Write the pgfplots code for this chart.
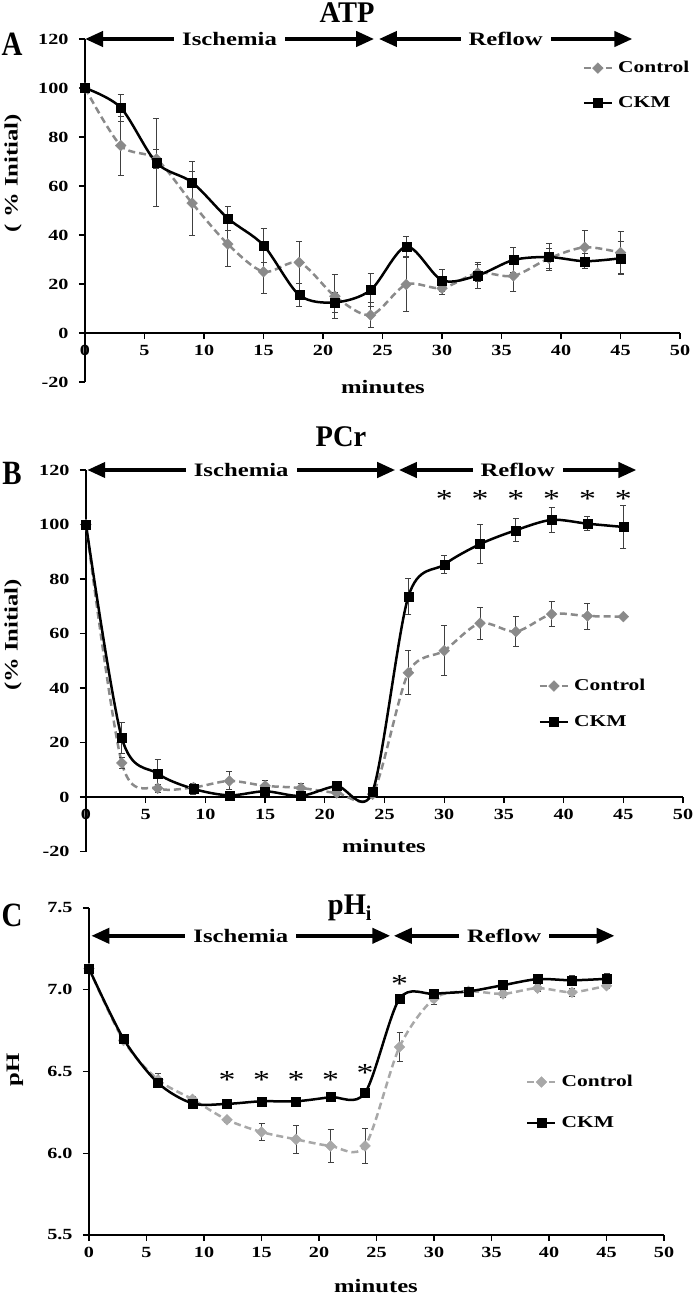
\documentclass[border=0pt]{standalone}
\usepackage{pgfplots}
\pgfplotsset{compat=1.18}
\usepackage{fontspec}
\setmainfont{Liberation Serif}[FakeStretch=1.3]
\newfontfamily\titlefont{Liberation Serif}[FakeStretch=0.95]
\newfontfamily\letterfont{Liberation Serif}[FakeStretch=0.85]
\usetikzlibrary{arrows.meta}

\definecolor{ctrlAB}{HTML}{8A8A8A}
\definecolor{ctrlC}{HTML}{A8A8A8}
\definecolor{errc}{HTML}{404040}
\newcommand{\fs}[1]{\fontsize{#1}{#1}\selectfont}

\tikzset{
  arr/.style={line width=4pt, {Triangle[length=18pt,width=15pt]}-{Triangle[length=18pt,width=15pt]}},
  lbl/.style={fill=white, inner xsep=8pt, inner ysep=1pt, font=\bfseries\fs{19}},
  ast/.style={font=\fs{26}, inner sep=0pt},
}

\pgfplotsset{
  myax/.style={
    scale only axis, anchor=south west, clip=false,
    axis y line*=left,
    axis line style={line width=1.4pt, -},
    tick style={line width=1.3pt, black},
    major tick length=6pt,
    tick align=outside,
    hide obscured x ticks=false, hide obscured y ticks=false,
    xmin=0, xmax=50, xtick={0,5,...,50},
    ticklabel style={font=\bfseries\fs{15.5}},
    yticklabel style={xshift=-7pt},
    xticklabel style={yshift=-3pt},
    /pgf/number format/assume math mode=true,
    legend style={draw=none, fill=none, font=\bfseries\fs{16.5}, inner sep=0pt,
      nodes={inner sep=0pt, text height=12pt, text depth=3pt, anchor=west},
      /tikz/every odd column/.append style={column sep=5pt}},
    legend cell align=left,
    legend image code/.code={\draw[mark repeat=2,mark phase=2,##1] plot coordinates {(0pt,0pt) (14pt,0pt) (28pt,0pt)};},
  },
  errs/.style={error bars/.cd, y dir=both, y explicit,
     error bar style={errc, line width=0.9pt, solid},
     error mark options={rotate=90, errc, mark size=3pt, line width=0.9pt, solid}},
  ctrl/.style={color=#1, line width=2.5pt, dash pattern=on 7pt off 4pt, smooth, tension=0.5,
     mark=square*, mark size=3.8pt, mark options={solid, rotate=45, fill=#1, draw=#1, line width=0.4pt}, errs},
  ckm/.style={black, line width=2.5pt, solid, smooth, tension=0.5,
     mark=square*, mark size=4.5pt, mark options={solid, fill=black, line width=0.4pt}, errs},
}

\begin{document}
\begin{tikzpicture}[x=1pt,y=1pt]
\path[use as bounding box] (0,0) rectangle (700,-1297);

% ---------------- Panel A ----------------
\begin{axis}[myax, at={(85pt,-382pt)}, width=595pt, height=343pt,
  ymin=-20, ymax=120, ytick={-20,0,...,120}, axis x line*=middle,
  legend style={at={(axis cs:41.8,101)}, anchor=west, row sep=20pt}]
\addplot+[ctrl=ctrlAB] coordinates {
(0,100) +- (0,0)
(3,76.5) +- (0,12)
(6,71) +- (0,4)
(9,53) +- (0,13)
(12,36.3) +- (0,9)
(15,25) +- (0,9)
(18,28.8) +- (0,8.5)
(21,15) +- (0,9)
(24,7.3) +- (0,5)
(27,19.8) +- (0,11)
(30,18.3) +- (0,2.7)
(33,24.5) +- (0,3.5)
(36,23.3) +- (0,6.3)
(39,30.5) +- (0,4)
(42,35) +- (0,7)
(45,32.8) +- (0,8.5)
};
\addlegendentry{Control}
\addplot+[ckm] coordinates {
(0,100) +- (0,0)
(3,92) +- (0,5.5)
(6,69.5) +- (0,18)
(9,61.5) +- (0,8.5)
(12,46.8) +- (0,5)
(15,35.8) +- (0,7)
(18,15.5) +- (0,4.8)
(21,12.5) +- (0,4)
(24,17.5) +- (0,6.7)
(27,35.3) +- (0,4)
(30,21.5) +- (0,4.5)
(33,23.5) +- (0,5.3)
(36,29.8) +- (0,5)
(39,31) +- (0,5.5)
(42,29.3) +- (0,3)
(45,30.5) +- (0,6.8)
};
\addlegendentry{CKM}
\draw[arr] (axis cs:0,120) -- node[lbl]{Ischemia} (axis cs:24.3,120);
\draw[arr] (axis cs:24.7,120) -- node[lbl]{Reflow} (axis cs:46,120);
\end{axis}

% ---------------- Panel B ----------------
\begin{axis}[myax, at={(86pt,-851.5pt)}, width=597pt, height=381.5pt,
  ymin=-20, ymax=120, ytick={-20,0,...,120}, axis x line*=middle,
  legend style={at={(axis cs:37.9,34.1)}, anchor=west, row sep=21pt}]
\addplot+[ctrl=ctrlAB] coordinates {
(0,100) +- (0,0)
(3,12.5) +- (0,2)
(6,3.2) +- (0,1.5)
(9,3.5) +- (0,1.5)
(12,5.9) +- (0,3.3)
(15,4.1) +- (0,2)
(18,3.3) +- (0,1.5)
(21,1.5) +- (0,1)
(24,1) +- (0,1)
(27,45.6) +- (0,8)
(30,53.7) +- (0,9.2)
(33,63.8) +- (0,5.8)
(36,60.7) +- (0,5.5)
(39,67.1) +- (0,4.5)
(42,66.4) +- (0,4.8)
(45,66.2) +- (0,0.5)
};
\addlegendentry{Control}
\addplot+[ckm] coordinates {
(0,100) +- (0,0)
(3,21.7) +- (0,5.8)
(6,8.6) +- (0,5.3)
(9,3) +- (0,2)
(12,0.6) +- (0,0.5)
(15,2.1) +- (0,1)
(18,0.4) +- (0,0.5)
(21,4) +- (0,1.6)
(24,2) +- (0,1)
(27,73.6) +- (0,6.7)
(30,85.3) +- (0,3.3)
(33,92.8) +- (0,7.2)
(36,97.9) +- (0,4.3)
(39,101.7) +- (0,4.6)
(42,100.3) +- (0,2.6)
(45,99.1) +- (0,8)
};
\addlegendentry{CKM}
\draw[arr] (axis cs:0.1,120) -- node[lbl]{Ischemia} (axis cs:25.9,120);
\draw[arr] (axis cs:26.2,120) -- node[lbl]{Reflow} (axis cs:46.1,120);
\node[ast] at (axis cs:30,109.2) {*};
\node[ast] at (axis cs:33,109.2) {*};
\node[ast] at (axis cs:36,109.2) {*};
\node[ast] at (axis cs:39,109.2) {*};
\node[ast] at (axis cs:42,109.2) {*};
\node[ast] at (axis cs:45,109.2) {*};
\end{axis}

% ---------------- Panel C ----------------
\begin{axis}[myax, at={(89pt,-1235pt)}, width=575pt, height=327pt,
  ymin=5.5, ymax=7.5, ytick={5.5,6,6.5,7,7.5}, axis x line*=bottom,
  yticklabel style={/pgf/number format/.cd, fixed, fixed zerofill, precision=1},
  legend style={at={(axis cs:38,6.31)}, anchor=west, row sep=26pt}]
\addplot+[ctrl=ctrlC] coordinates {
(0,7.13) +- (0,0.01)
(3,6.69) +- (0,0.02)
(6,6.45) +- (0,0.04)
(9,6.33) +- (0,0.02)
(12,6.205) +- (0,0.015)
(15,6.13) +- (0,0.05)
(18,6.085) +- (0,0.085)
(21,6.045) +- (0,0.1)
(24,6.045) +- (0,0.105)
(27,6.65) +- (0,0.09)
(30,6.945) +- (0,0.035)
(33,6.99) +- (0,0.01)
(36,6.975) +- (0,0.02)
(39,7.01) +- (0,0.02)
(42,6.985) +- (0,0.025)
(45,7.025) +- (0,0.015)
};
\addlegendentry{Control}
\addplot+[ckm] coordinates {
(0,7.13) +- (0,0.01)
(3,6.70) +- (0,0.02)
(6,6.43) +- (0,0.02)
(9,6.305) +- (0,0.02)
(12,6.302) +- (0,0.02)
(15,6.318) +- (0,0.015)
(18,6.318) +- (0,0.015)
(21,6.343) +- (0,0.015)
(24,6.369) +- (0,0.02)
(27,6.945) +- (0,0.015)
(30,6.975) +- (0,0.01)
(33,6.99) +- (0,0.01)
(36,7.028) +- (0,0.03)
(39,7.065) +- (0,0.02)
(42,7.058) +- (0,0.03)
(45,7.067) +- (0,0.03)
};
\addlegendentry{CKM}
\draw[arr] (axis cs:0.2,7.33) -- node[lbl]{Ischemia} (axis cs:26.2,7.33);
\draw[arr] (axis cs:26.5,7.33) -- node[lbl]{Reflow} (axis cs:45.7,7.33);
\node[ast] at (axis cs:12,6.447) {*};
\node[ast] at (axis cs:15,6.447) {*};
\node[ast] at (axis cs:18,6.447) {*};
\node[ast] at (axis cs:21,6.447) {*};
\node[ast] at (axis cs:24,6.49) {*};
\node[ast] at (axis cs:27,7.035) {*};
\end{axis}

% ---------------- Texts ----------------
\node[font=\titlefont\bfseries\fs{30}] at (347,-13) {ATP};
\node[font=\titlefont\bfseries\fs{30}] at (341,-437) {PCr};
\node[font=\titlefont\bfseries\fs{30}] at (350,-908) {pH\textsubscript{i}};
\node[font=\letterfont\bfseries\fs{34}] at (12,-44) {A};
\node[font=\letterfont\bfseries\fs{34}] at (12,-473) {B};
\node[font=\letterfont\bfseries\fs{34}] at (12,-915) {C};
\node[rotate=90, font=\bfseries\fs{19}] at (13,-173) {( \% Initial)};
\node[rotate=90, font=\bfseries\fs{19}] at (13,-635) {(\% Initial)};
\node[rotate=90, font=\bfseries\fs{19}] at (15,-1070) {pH};
\node[font=\bfseries\fs{19}] at (383,-387) {minutes};
\node[font=\bfseries\fs{19}] at (384,-846) {minutes};
\node[font=\bfseries\fs{19}] at (376,-1286) {minutes};
\end{tikzpicture}
\end{document}
